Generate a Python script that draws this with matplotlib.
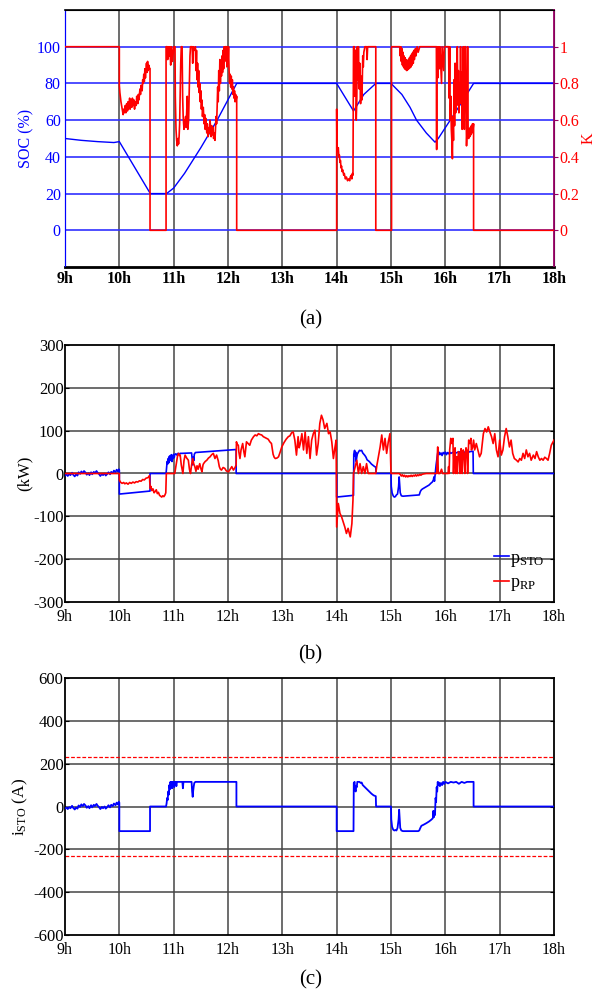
import matplotlib
matplotlib.use('Agg')
import matplotlib.pyplot as plt

plt.rcParams['font.family'] = ['Liberation Serif', 'DejaVu Serif']
plt.rcParams['mathtext.fontset'] = 'custom'
plt.rcParams['mathtext.rm'] = 'Liberation Serif'
plt.rcParams['mathtext.it'] = 'Liberation Serif:italic'
plt.rcParams['axes.unicode_minus'] = False  # plain hyphen like the original

hours = [9, 10, 11, 12, 13, 14, 15, 16, 17, 18]
hour_labels = ['9h', '10h', '11h', '12h', '13h', '14h', '15h', '16h', '17h', '18h']

# (a) state of charge (%) and K
soc_t = [9.0, 9.3, 9.6, 9.9, 10.0, 10.57, 10.87, 11.0, 11.2, 11.5, 11.8, 12.16, 14.0, 14.31, 14.5,
         14.72, 15.0, 15.1, 15.2, 15.35, 15.47, 15.65, 15.81, 15.87, 16.2, 16.52, 18.0]
soc_v = [50, 49, 48.3, 47.8, 48.3, 20, 20, 23, 31, 45, 60, 80, 80, 65, 74,
         80, 80, 77, 74, 67, 60, 53, 48, 50, 65, 80, 80]

k_t = [9.0, 10.0, 10.0, 10.01, 10.03, 10.05, 10.07, 10.08, 10.09, 10.11, 10.12, 10.135, 10.15, 10.16,
       10.17, 10.19, 10.2, 10.21, 10.23, 10.24, 10.26, 10.27, 10.28, 10.29, 10.31, 10.32, 10.34, 10.35,
       10.36, 10.38, 10.39, 10.4, 10.42, 10.43, 10.44, 10.45, 10.46, 10.47, 10.48, 10.5, 10.51, 10.52,
       10.53, 10.54, 10.56, 10.565, 10.565, 10.86, 10.86,
       10.88, 10.89, 10.9, 10.92, 10.93, 10.945, 10.96, 10.98, 11.0, 11.025, 11.03, 11.043, 11.055,
       11.067, 11.08, 11.09, 11.1, 11.11, 11.12, 11.13, 11.14, 11.155, 11.165, 11.175, 11.19, 11.2,
       11.21, 11.22, 11.23, 11.25, 11.26, 11.275, 11.29, 11.3, 11.31, 11.32, 11.34, 11.35, 11.36,
       11.38, 11.4, 11.41, 11.42, 11.43, 11.44, 11.45, 11.46, 11.47, 11.48, 11.49, 11.5, 11.51, 11.52,
       11.53, 11.545, 11.56, 11.57, 11.58, 11.59, 11.6, 11.61, 11.62, 11.635, 11.65, 11.66, 11.67,
       11.68, 11.69, 11.7, 11.71, 11.725, 11.735, 11.75, 11.76, 11.77, 11.78, 11.79, 11.8, 11.81,
       11.82, 11.83, 11.84, 11.85, 11.86, 11.87, 11.88, 11.89, 11.9, 11.91, 11.92, 11.93, 11.94,
       11.95, 11.97, 11.98, 11.99, 12.0, 12.01, 12.02, 12.03, 12.04, 12.05, 12.06, 12.07, 12.08,
       12.09, 12.1, 12.11, 12.12, 12.13, 12.14, 12.15, 12.16, 12.16,
       14.0, 14.0, 14.005, 14.02, 14.03, 14.04, 14.05, 14.06, 14.07, 14.08, 14.09, 14.1, 14.11,
       14.13, 14.14, 14.16, 14.18, 14.2, 14.22, 14.24, 14.25, 14.27, 14.28, 14.29, 14.3, 14.31,
       14.325, 14.335, 14.345, 14.36, 14.37, 14.38, 14.39, 14.4, 14.415, 14.425, 14.44, 14.45,
       14.465, 14.48, 14.49, 14.5, 14.52, 14.55, 14.56, 14.57, 14.72, 14.72, 15.01, 15.01,
       15.16, 15.17, 15.18, 15.19, 15.2, 15.21, 15.22, 15.23, 15.24, 15.25, 15.26, 15.27, 15.28,
       15.29, 15.3, 15.31, 15.32, 15.33, 15.34, 15.35, 15.36, 15.37, 15.38, 15.39, 15.4, 15.41,
       15.42, 15.43, 15.45, 15.46, 15.48, 15.5, 15.53, 15.835,
       15.84, 15.845, 15.86, 15.87, 15.89, 15.9, 15.93, 15.94, 15.97, 15.98, 16.06, 16.07, 16.08,
       16.09, 16.1, 16.11, 16.12, 16.13, 16.14, 16.15, 16.16, 16.17, 16.18, 16.19, 16.2, 16.21,
       16.22, 16.23, 16.24, 16.25, 16.26, 16.27, 16.28, 16.29, 16.3, 16.31, 16.32, 16.33, 16.34,
       16.35, 16.36, 16.37, 16.38, 16.39, 16.4, 16.41, 16.42, 16.43, 16.44, 16.45, 16.46, 16.47,
       16.48, 16.49, 16.5, 16.51, 16.52, 16.52, 18.0]
k_v = [1, 1, 0.79, 0.75, 0.70, 0.665, 0.63, 0.66, 0.64, 0.68, 0.64, 0.69, 0.65, 0.70,
       0.66, 0.72, 0.66, 0.71, 0.67, 0.72, 0.68, 0.71, 0.66, 0.70, 0.68, 0.73, 0.69, 0.74,
       0.71, 0.77, 0.74, 0.79, 0.76, 0.82, 0.80, 0.85, 0.81, 0.88, 0.83, 0.91, 0.86, 0.92,
       0.87, 0.90, 0.88, 0.88, 0, 0, 1,
       1, 0.93, 1, 0.95, 1, 0.90, 1, 0.92, 1, 1, 0.73, 0.55, 0.49,
       0.46, 0.50, 0.47, 0.51, 0.58, 0.75, 0.91, 1, 1, 0.73, 0.62, 0.55, 0.60,
       0.58, 0.62, 0.56, 0.73, 0.55, 0.60, 0.82, 0.95, 1, 1, 1, 0.91, 1,
       0.98, 1, 0.87, 0.98, 0.82, 0.91, 0.78, 0.87, 0.75, 0.80, 0.70, 0.76, 0.66, 0.71,
       0.62, 0.67, 0.58, 0.63, 0.55, 0.61, 0.57, 0.53, 0.58, 0.51, 0.56, 0.53, 0.60,
       0.55, 0.51, 0.57, 0.52, 0.56, 0.50, 0.53, 0.49, 0.55, 0.62, 0.58, 0.67, 0.78,
       0.70, 0.87, 0.76, 0.93, 0.80, 0.90, 0.84, 0.95, 0.86, 0.98, 0.88, 1, 0.92,
       1, 1, 0.89, 1, 0.91, 1, 0.87, 0.80, 0.85, 0.78, 0.84, 0.77, 0.82,
       0.74, 0.78, 0.72, 0.76, 0.70, 0.74, 0.71, 0.73, 0,
       0, 0.66, 0.45, 0.43, 0.45, 0.40, 0.41, 0.37, 0.38, 0.34, 0.35, 0.32, 0.33,
       0.30, 0.31, 0.28, 0.29, 0.27, 0.28, 0.27, 0.29, 0.30, 0.28, 0.31, 0.30, 1,
       1, 0.73, 0.98, 0.60, 0.70, 1, 0.82, 1, 0.77, 0.91, 0.69, 0.84,
       0.71, 0.95, 0.89, 0.97, 1, 1, 0.93, 1, 1, 0, 0, 1,
       1, 0.95, 1, 0.92, 0.99, 0.90, 0.97, 0.89, 0.95, 0.88, 0.94, 0.875, 0.93,
       0.87, 0.92, 0.875, 0.93, 0.88, 0.94, 0.885, 0.95, 0.89, 0.96, 0.90, 0.97, 0.91,
       0.98, 0.93, 0.99, 0.95, 1, 0.97, 1, 1,
       0.44, 1, 0.83, 1, 0.88, 1, 0.80, 1, 0.87, 1, 1, 0.72, 1,
       0.60, 0.73, 0.55, 0.49, 0.39, 0.62, 0.49, 0.82, 0.57, 0.91, 0.64, 0.86, 0.68,
       1, 0.73, 0.87, 0.64, 0.80, 0.69, 1, 0.73, 0.86, 0.55, 0.70, 1, 0.78,
       0.55, 1, 1, 0.70, 0.46, 0.55, 1, 0.52, 0.50, 0.55, 0.51, 0.56, 0.52,
       0.57, 0.53, 0.58, 0.55, 0.58, 0, 0]

# (b) powers (kW)
psto_t = [9.0, 9.03, 9.05, 9.08, 9.1, 9.13, 9.15, 9.18, 9.2, 9.23, 9.25, 9.28, 9.3, 9.33, 9.35,
          9.38, 9.4, 9.43, 9.45, 9.48, 9.5, 9.53, 9.55, 9.58, 9.6, 9.63, 9.65, 9.68, 9.7, 9.73,
          9.75, 9.78, 9.8, 9.83, 9.85, 9.88, 9.9, 9.93, 9.95, 9.97, 9.99, 10.0, 10.0, 10.565,
          10.565, 10.86, 10.87, 10.88, 10.89, 10.9, 10.91, 10.92, 10.93, 10.94, 10.95, 10.96,
          10.97, 10.98, 10.99, 11.0, 11.01, 11.02, 11.04, 11.06, 11.08, 11.1, 11.12, 11.15,
          11.33, 11.34, 11.35, 11.36, 11.37, 11.38, 11.4, 12.15, 12.15, 14.0, 14.0, 14.31,
          14.315, 14.33, 14.34, 14.35, 14.36, 14.37, 14.38, 14.4, 14.42, 14.44, 14.46, 14.48,
          14.5, 14.52, 14.54, 14.56, 14.58, 14.6, 14.62, 14.64, 14.66, 14.68, 14.7, 14.72,
          14.725, 15.0, 15.005, 15.02, 15.04, 15.06, 15.08, 15.1, 15.12, 15.14, 15.15, 15.16,
          15.17, 15.19, 15.22, 15.52, 15.54, 15.56, 15.58, 15.62, 15.66, 15.7, 15.74, 15.76,
          15.78, 15.79, 15.8, 15.81, 15.83, 15.84, 15.85, 15.86, 15.87, 15.88, 15.9, 15.92,
          15.94, 15.96, 15.98, 16.0, 16.02, 16.04, 16.06, 16.08, 16.1, 16.15, 16.2, 16.25,
          16.3, 16.35, 16.4, 16.45, 16.51, 16.515, 18.0]
psto_v = [-5, -2, -6, -1, -4, 2, -3, -7, -2, -5, 3, -1, 5, 1, 6,
          2, -3, 1, -4, 3, -2, 4, 1, 6, 2, -2, -6, -1, -4, 0,
          -5, -1, 3, -2, 4, 1, 7, 3, 9, 5, 10, 8, -48, -41,
          0, 0, 15, 28, 22, 35, 25, 40, 30, 42, 33, 44,
          28, 41, 35, 45, 37, 44, 46, 43, 47, 45, 47, 47,
          48, 35, 20, 38, 30, 45, 49, 56, 0, 0, -55, -51,
          45, 54, 40, 50, 28, 38, 45, 50, 54, 53, 54, 48,
          45, 42, 38, 32, 30, 28, 25, 22, 20, 18, 16, 15,
          0, 0, -30, -45, -52, -55, -54, -50, -48, -30, -8, -25,
          -45, -52, -53, -50, -42, -38, -36, -33, -30, -27, -22, -20,
          -15, -8, -18, -5, 20, 30, 38, 48, 45, 50, 44, 48,
          42, 49, 46, 50, 44, 49, 46, 50, 47, 50, 48, 51,
          47, 50, 48, 51, 52, 0, 0]

prp_t = [9.0, 10.0, 10.0, 10.02, 10.05, 10.08, 10.1, 10.13, 10.16, 10.19, 10.22, 10.25, 10.28,
         10.31, 10.34, 10.37, 10.4, 10.43, 10.46, 10.49, 10.52, 10.54, 10.555, 10.56, 10.57,
         10.58, 10.6, 10.62, 10.64, 10.66, 10.68, 10.7, 10.72, 10.74, 10.76, 10.78, 10.8,
         10.82, 10.84, 10.855, 10.865,
         11.02, 11.05, 11.07, 11.09, 11.11, 11.12, 11.14, 11.17, 11.19, 11.21, 11.24, 11.27,
         11.29, 11.31, 11.33, 11.35, 11.37, 11.39, 11.41, 11.43, 11.45, 11.48, 11.5, 11.52,
         11.54, 11.55, 11.58, 11.61, 11.64, 11.67, 11.7, 11.73, 11.76, 11.79, 11.82, 11.84,
         11.86, 11.88, 11.91, 11.94, 11.97, 12.01, 12.04, 12.07, 12.1, 12.13, 12.15,
         12.155, 12.17, 12.19, 12.2, 12.22, 12.24, 12.27, 12.29, 12.31, 12.33, 12.34, 12.37,
         12.4, 12.43, 12.47, 12.5, 12.53, 12.56, 12.59, 12.62, 12.65, 12.68, 12.71, 12.74,
         12.77, 12.8, 12.83, 12.85, 12.87, 12.9, 12.93, 12.96, 12.99, 13.03, 13.07, 13.11,
         13.14, 13.17, 13.2, 13.23, 13.26, 13.29, 13.31,
         13.33, 13.36, 13.39, 13.42, 13.45, 13.48, 13.51, 13.54, 13.57, 13.6, 13.63, 13.66,
         13.69, 13.72, 13.75, 13.78, 13.82, 13.85, 13.88, 13.91, 13.94, 13.97, 13.99,
         14.0, 14.03, 14.06, 14.09, 14.12, 14.15, 14.18, 14.21, 14.25, 14.28, 14.3, 14.31,
         14.34, 14.37, 14.4, 14.43, 14.46, 14.49, 14.52, 14.55, 14.58, 14.72, 14.74, 14.8,
         14.83, 14.86, 14.89, 14.92, 14.95, 14.98, 15.0,
         15.15, 15.17, 15.19, 15.21, 15.23, 15.25, 15.27, 15.29, 15.31, 15.33, 15.35, 15.37,
         15.39, 15.41, 15.43, 15.45, 15.47, 15.49, 15.51, 15.53, 15.55, 15.57, 15.6, 15.65,
         15.84, 15.85, 15.86, 15.87, 15.9, 15.93, 15.95, 16.05, 16.06, 16.07, 16.08, 16.1,
         16.12, 16.14, 16.15, 16.16, 16.18, 16.19, 16.21, 16.22, 16.24, 16.26, 16.27, 16.29,
         16.3, 16.31, 16.33, 16.35, 16.36, 16.38, 16.4, 16.41, 16.43, 16.45, 16.47, 16.48,
         16.5, 16.52, 16.54, 16.57, 16.6, 16.63, 16.66, 16.7, 16.73, 16.76, 16.79, 16.82,
         16.85, 16.88, 16.91, 16.94, 16.97, 17.0, 17.03, 17.06, 17.09, 17.12, 17.15, 17.18,
         17.21, 17.24, 17.27, 17.31, 17.34, 17.37, 17.4, 17.43, 17.46, 17.49, 17.52, 17.55,
         17.58, 17.62, 17.65, 17.68, 17.71, 17.74, 17.77, 17.8, 17.83, 17.86, 17.89, 17.92,
         17.95, 18.0]
prp_v = [0, 0, -15, -20, -23, -21, -24, -22, -25, -21, -23, -20, -22,
         -19, -20, -17, -18, -14, -15, -11, -10, -8, -5, -20, -35,
         -30, -40, -36, -45, -42, -38, -47, -44, -51, -53, -55, -52,
         -54, -50, -45, 0,
         0, 25, 40, 47, 42, 43, 20, 0, 30, 43, 36, 31,
         10, 0, 20, 35, 22, 16, 5, 18, 10, 23, 12, 4,
         20, 23, 28, 31, 36, 39, 44, 47, 35, 43, 30, 16,
         10, 8, 14, 12, 6, 4, 10, 16, 8, 14, 20,
         74, 68, 66, 50, 35, 55, 70, 52, 39, 62, 74, 70,
         66, 78, 86, 90, 88, 93, 91, 90, 86, 84, 82, 80,
         74, 70, 45, 38, 35, 36, 39, 50, 62, 72, 80, 86,
         88, 95, 97, 78, 43, 86, 60,
         70, 93, 55, 97, 47, 86, 35, 78, 93, 101, 43, 70,
         117, 136, 125, 105, 117, 93, 97, 74, 35, 62, 78,
         -125, -70, -93, -101, -113, -125, -140, -128, -148, -117, -62, 0,
         16, 31, 0, 23, 0, 16, 0, 23, 0, 0, 19, 62,
         90, 55, 82, 47, 74, 93, 0,
         0, -2, -6, -3, -7, -4, -8, -5, -8, -5, -7, -4,
         -7, -4, -6, -3, -6, -3, -5, -2, -4, -2, -1, 0,
         0, 35, 62, 0, 0, 10, 0, 0, 16, 0, 55, 82,
         70, 82, 0, 47, 60, 0, 39, 0, 51, 45, 0, 58,
         50, 0, 55, 45, 0, 60, 52, 0, 78, 70, 82, 55,
         60, 78, 55, 70, 55, 39, 47, 93, 105, 97, 109, 97,
         86, 70, 93, 55, 39, 78, 43, 55, 86, 105, 86, 62,
         78, 47, 35, 31, 27, 35, 31, 47, 35, 55, 39, 47,
         31, 43, 35, 51, 39, 31, 35, 31, 38, 35, 31, 47,
         66, 78]

# (c) storage current (A)
isto_t = [9.0, 9.03, 9.05, 9.08, 9.1, 9.13, 9.15, 9.18, 9.2, 9.23, 9.25, 9.28, 9.3, 9.33, 9.35,
          9.38, 9.4, 9.43, 9.45, 9.48, 9.5, 9.53, 9.55, 9.58, 9.6, 9.63, 9.65, 9.68, 9.7, 9.73,
          9.75, 9.78, 9.8, 9.83, 9.85, 9.88, 9.9, 9.93, 9.95, 9.97, 9.99, 10.0, 10.0, 10.565,
          10.565, 10.86, 10.87, 10.88, 10.89, 10.9, 10.91, 10.92, 10.93, 10.94, 10.95, 10.96,
          10.97, 10.98, 10.99, 11.0, 11.01, 11.02, 11.04, 11.05, 11.06, 11.16, 11.17, 11.18,
          11.33, 11.34, 11.35, 11.36, 11.37, 11.38, 11.4, 12.155, 12.155, 14.0, 14.0, 14.31,
          14.315, 14.33, 14.34, 14.35, 14.36, 14.37, 14.38, 14.42, 14.44, 14.46, 14.48, 14.5,
          14.52, 14.54, 14.56, 14.58, 14.6, 14.62, 14.64, 14.66, 14.68, 14.7, 14.72, 14.725,
          15.0, 15.005, 15.02, 15.04, 15.06, 15.08, 15.1, 15.12, 15.14, 15.15, 15.16, 15.17,
          15.19, 15.22, 15.5, 15.52, 15.54, 15.56, 15.6, 15.65, 15.7, 15.74, 15.77, 15.78,
          15.79, 15.8, 15.81, 15.82, 15.83, 15.84, 15.85, 15.86, 15.87, 15.88, 15.9, 15.92,
          15.94, 15.96, 15.98, 16.0, 16.05, 16.1, 16.15, 16.2, 16.25, 16.3, 16.35, 16.4,
          16.52, 16.52, 18.0]
isto_v = [-10, -5, -12, -3, -8, 3, -6, -14, -5, -10, 5, -2, 10, 2, 12,
          4, -6, 2, -8, 6, -4, 8, 2, 12, 4, -4, -12, -2, -8, 0,
          -10, -2, 6, -4, 8, 2, 14, 6, 18, 10, 22, 18, -115, -115,
          0, 0, 15, 40, 30, 70, 55, 100, 80, 115, 95, 115,
          85, 115, 95, 115, 90, 115, 115, 95, 115, 115, 85, 115,
          115, 70, 45, 75, 95, 110, 115, 115, 0, 0, -115, -115,
          110, 115, 80, 70, 95, 90, 115, 115, 110, 112, 100, 95,
          90, 85, 80, 75, 70, 65, 60, 56, 52, 50, 48, 0,
          0, -60, -95, -108, -112, -110, -112, -100, -60, -15, -60, -100,
          -112, -115, -115, -112, -100, -90, -85, -78, -70, -62, -55, -20,
          -50, -30, -40, 40, 20, 90, 70, 115, 100, 112, 95, 110,
          100, 115, 105, 115, 108, 115, 112, 115, 106, 115, 110, 115,
          115, 0, 0]
i_limit = 230

fig = plt.figure(figsize=(5.99, 9.96), dpi=100)
L, W = 65 / 599, (554 - 65) / 599
H = 257 / 996
ax_a = fig.add_axes([L, 1 - 267 / 996, W, H])
ax_b = fig.add_axes([L, 1 - 602 / 996, W, H])
ax_c = fig.add_axes([L, 1 - 935 / 996, W, H])

grid_col = '#454545'


def setup_x(ax, bold=False, pad=3):
    ax.set_xlim(9, 18)
    ax.set_xticks(hours)
    ax.set_xticklabels(hour_labels, fontsize=11.5, fontweight='bold' if bold else 'normal')
    ax.tick_params(axis='x', length=0, pad=pad)
    for h in hours[1:-1]:
        ax.axvline(h, color=grid_col, lw=1.1, zorder=1)


# ---- (a)
setup_x(ax_a, bold=True)
ax_a.set_ylim(-20, 120)
ax_a.set_yticks([0, 20, 40, 60, 80, 100])
ax_a.tick_params(axis='y', colors='blue', labelsize=11.5, length=0, pad=3)
for v in [0, 20, 40, 60, 80, 100]:
    ax_a.axhline(v, color='#3030ff', lw=1.2, zorder=1)
ax_a.plot(soc_t, soc_v, color='blue', lw=1.0, zorder=3)
ax_a.set_ylabel('SOC (%)', color='blue', fontsize=11.5, labelpad=2)
ax_a.spines['left'].set_color('blue')
ax_a.spines['bottom'].set_linewidth(2)
ax_a.spines['top'].set_linewidth(1.2)

ax_k = ax_a.twinx()
ax_k.set_ylim(-0.2, 1.2)
ax_k.set_yticks([0, 0.2, 0.4, 0.6, 0.8, 1])
ax_k.set_yticklabels(['0', '0.2', '0.4', '0.6', '0.8', '1'])
ax_k.tick_params(axis='y', colors='red', labelsize=11.5, length=3, pad=1)
ax_k.tick_params(axis='y', color='#990066')
ax_k.plot(k_t, k_v, color='red', lw=1.2, zorder=4)
ax_k.set_ylabel('K', color='red', fontsize=11.5, labelpad=1)
ax_k.spines['right'].set_color('#990066')
ax_k.spines['right'].set_linewidth(1.3)
ax_k.spines['left'].set_color('blue')

# ---- (b)
setup_x(ax_b, pad=5)
ax_b.set_ylim(-300, 300)
ax_b.set_yticks([-300, -200, -100, 0, 100, 200, 300])
ax_b.tick_params(axis='y', labelsize=12, length=3, direction='in', right=True, pad=1)
for v in [-200, -100, 0, 100, 200]:
    ax_b.axhline(v, color=grid_col, lw=1.1, zorder=1)
ax_b.plot(psto_t, psto_v, color='blue', lw=1.2, zorder=3, label=r'$\mathrm{p_{STO}}$')
ax_b.plot(prp_t, prp_v, color='red', lw=1.2, zorder=4, label=r'$\mathrm{p_{RP}}$')
ax_b.set_ylabel('(kW)', fontsize=12, labelpad=0)
ax_b.legend(loc='lower right', frameon=False, fontsize=13, handlelength=0.8,
            handletextpad=0.1, labelspacing=0.3, borderaxespad=0.1)
for s in ax_b.spines.values():
    s.set_linewidth(1.3)

# ---- (c)
setup_x(ax_c, pad=5)
ax_c.set_ylim(-600, 600)
ax_c.set_yticks([-600, -400, -200, 0, 200, 400, 600])
ax_c.tick_params(axis='y', labelsize=12, length=3, direction='in', right=True, pad=1)
for v in [-400, -200, 0, 200, 400]:
    ax_c.axhline(v, color=grid_col, lw=1.1, zorder=1)
ax_c.axhline(i_limit, color='red', lw=0.9, ls=(0, (3, 1.5)), zorder=2)
ax_c.axhline(-i_limit, color='red', lw=0.9, ls=(0, (3, 1.5)), zorder=2)
ax_c.plot(isto_t, isto_v, color='blue', lw=1.3, zorder=3)
ax_c.set_ylabel(r'$\mathrm{i_{STO}}$ (A)', fontsize=12.5, labelpad=2)
for s in ax_c.spines.values():
    s.set_linewidth(1.3)

fig.text(0.518, 1 - 320 / 996, '(a)', ha='center', va='center', fontsize=15)
fig.text(0.518, 1 - 655 / 996, '(b)', ha='center', va='center', fontsize=15)
fig.text(0.518, 1 - 980 / 996, '(c)', ha='center', va='center', fontsize=15)

fig.savefig('out.png', dpi=100)
